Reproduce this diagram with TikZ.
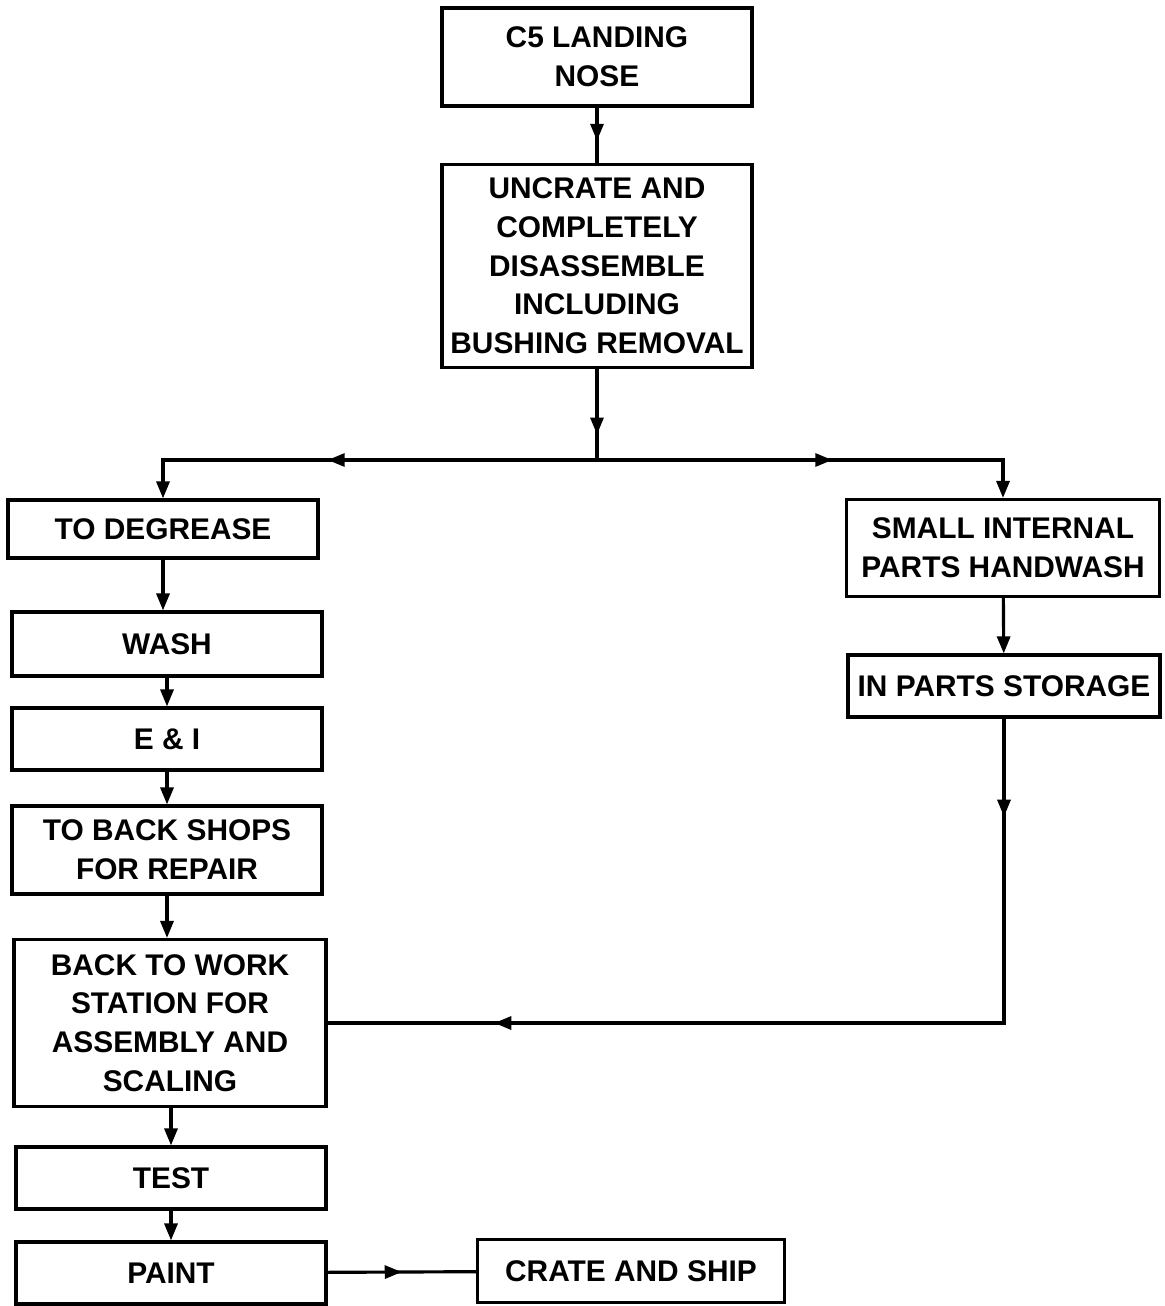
\documentclass[tikz,border=0pt]{standalone}
\usepackage{fontspec}
\setmainfont{Liberation Sans}
\usetikzlibrary{arrows.meta, decorations.markings}
\tikzset{
  stepbox/.style={rectangle, draw, line width=1.8pt, align=center, inner sep=0pt,
                  minimum width=6.2cm, minimum height=#1,
                  font=\fontsize{17pt}{22pt}\selectfont\bfseries},
  stepbox/.default=1.25cm,
  arr/.style={line width=1.8pt, -{Triangle[length=0.34cm, width=0.26cm]}},
  midarr/.style={line width=1.8pt, postaction={decorate},
                 decoration={markings, mark=at position #1 with
                   {\arrow{Triangle[length=0.34cm, width=0.26cm]}}}},
  twomid/.style 2 args={line width=1.8pt, postaction={decorate},
                 decoration={markings,
                   mark=at position #1 with {\arrow{Triangle[length=0.34cm, width=0.26cm]}},
                   mark=at position #2 with {\arrow{Triangle[length=0.34cm, width=0.26cm]}}}},
}
\begin{document}
\begin{tikzpicture}[x=0.02cm, y=-0.02cm]
\useasboundingbox (0,0) rectangle (1165,1306);
% main column
\node[stepbox=1.96cm] (nose) at (597,57) {C5 LANDING\\NOSE};
\node[stepbox=4.06cm] (uncrate) at (597,266) {UNCRATE AND\\COMPLETELY\\DISASSEMBLE\\INCLUDING\\BUSHING REMOVAL};
\coordinate (split) at (597,460);
% left branch
\node[stepbox=1.16cm] (degrease) at (163,529) {TO DEGREASE};
\node[stepbox=1.28cm] (wash) at (167,644) {WASH};
\node[stepbox=1.24cm] (ei) at (167,739) {E \& I};
\node[stepbox=1.76cm] (backshops) at (167,850) {TO BACK SHOPS\\FOR REPAIR};
\node[stepbox=3.34cm, minimum width=6.24cm] (workst) at (170,1023) {BACK TO WORK\\STATION FOR\\ASSEMBLY AND\\SCALING};
\node[stepbox=1.24cm] (test) at (171,1178) {TEST};
\node[stepbox=1.24cm] (paint) at (171,1273) {PAINT};
\node[stepbox=1.26cm, minimum width=6.14cm] (crate) at (631,1271) {CRATE AND SHIP};
% right branch
\node[stepbox=1.94cm, minimum width=6.26cm] (handwash) at (1003,548) {SMALL INTERNAL\\PARTS HANDWASH};
\node[stepbox=1.24cm, minimum width=6.24cm] (storage) at (1004,686) {IN PARTS STORAGE};
% connectors
\draw[midarr=0.6] (nose) -- (uncrate);
\draw[midarr=0.72] (uncrate) -- (split);
\draw[midarr=0.57, arr] (split) -| (degrease.north);
\draw[midarr=0.53, arr] (split) -| (handwash.north);
\draw[arr] (degrease) -- (wash.north -| degrease.south);
\draw[arr] (wash) -- (ei);
\draw[arr] (ei) -- (backshops);
\draw[arr] (backshops) -- (workst.north -| backshops.south);
\draw[arr] (workst.south -| test.north) -- (test);
\draw[arr] (test) -- (paint);
\draw[midarr=0.5] (paint) -- (crate);
\draw[arr] (handwash) -- (storage);
\draw[twomid={0.1}{0.83}] (storage) |- (workst.east);
\end{tikzpicture}
\end{document}
